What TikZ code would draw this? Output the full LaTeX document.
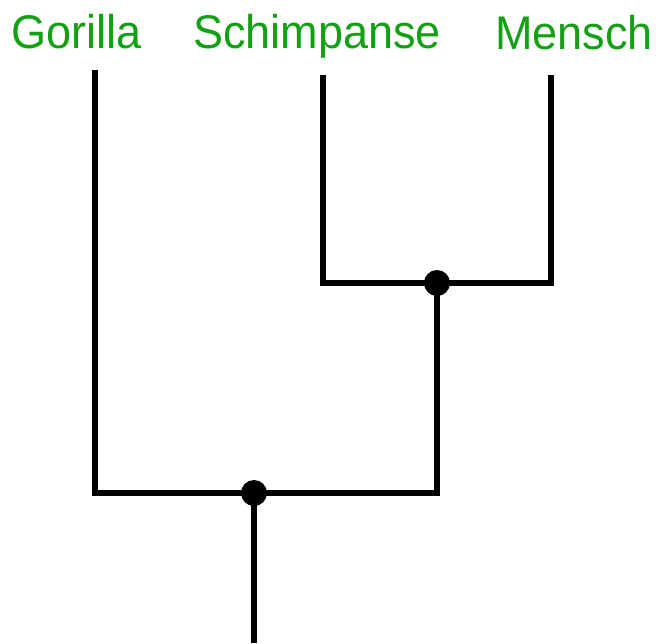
\documentclass[tikz,border=0pt]{standalone}
\usepackage{fontspec}
\setmainfont{Liberation Sans}
\definecolor{labelgreen}{RGB}{20,160,20}
\begin{document}
\begin{tikzpicture}[x=1pt,y=-1pt,
  label/.style={anchor=base west,inner sep=0pt,text=labelgreen,font=\fontsize{45}{50}\selectfont},
  branch/.style={line width=6pt,line join=miter},
  joint/.style={circle,fill=black,inner sep=0pt,minimum size=26pt}]
\useasboundingbox[fill=white] (0,0) rectangle (658,643);
\node[label,yscale=1.05] (gor) at (11,48) {Gorilla};
\node[label,yscale=1.05] (sch) at (193,48) {Schimpanse};
\node[label,yscale=1.05] (men) at (495,49) {Mensch};
\coordinate (gtop) at (95,70);
\coordinate (stop) at (323,75);
\coordinate (mtop) at (551,75);
\coordinate (root) at (254,643);
\node[joint] (j1) at (437,283) {};
\node[joint] (j2) at (254,493) {};
\draw[branch] (stop) |- (j1.center) -| (mtop);
\draw[branch] (gtop) |- (j2.center) -| (j1.center);
\draw[branch] (j2.center) -- (root);
\end{tikzpicture}
\end{document}
